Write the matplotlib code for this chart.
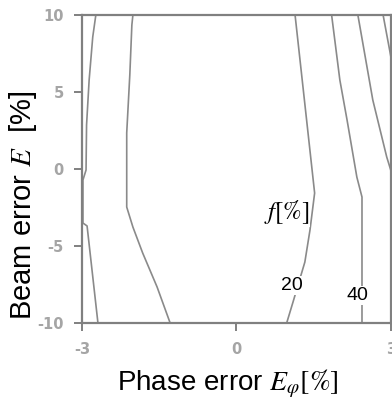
import numpy as np
import matplotlib
matplotlib.use("Agg")
import matplotlib.pyplot as plt

plt.rcParams["font.family"] = ["Liberation Sans", "DejaVu Sans"]
plt.rcParams["mathtext.fontset"] = "stix"
plt.rcParams["axes.unicode_minus"] = False

# contour lines (phase error, beam error)
line_a_x = [-2.73, -2.79, -2.86, -2.91, -2.92, -2.98, -2.98, -2.90, -2.69]
line_a_y = [10, 8.57, 5.77, 2.85, -0.08, -0.73, -3.53, -3.72, -10]

line_b_x = [-2.01, -2.03, -2.07, -2.13, -2.13, -2.01, -1.82, -1.54, -1.29]
line_b_y = [10, 9.35, 6.10, 2.33, -2.49, -3.79, -5.48, -7.69, -10]

line_20_x = [1.14, 1.52, 1.43, 1.33, 1.10, 0.98]
line_20_y = [10, -1.58, -3.98, -6.07, -8.67, -10]

line_40_x = [1.85, 2.01, 2.15, 2.34, 2.44, 2.44]
line_40_y = [10, 5.77, 3.17, -0.54, -1.84, -10]

line_e_x = [2.36, 2.65, 2.92, 3.0]
line_e_y = [10, 4.47, 0.77, -0.1]

line_f_x = [2.85, 3.0]
line_f_y = [10, 7.3]

lines = [
    (line_a_x, line_a_y),
    (line_b_x, line_b_y),
    (line_20_x, line_20_y),
    (line_40_x, line_40_y),
    (line_e_x, line_e_y),
    (line_f_x, line_f_y),
]

# labels: text, x, y
labels = [("$f[\\%]$", 0.98, -2.81), ("20", 1.08, -7.6), ("40", 2.36, -8.25)]

x_ticks = [-3, 0, 3]
y_ticks = [-10, -5, 0, 5, 10]

fig = plt.figure(figsize=(3.92, 3.99), dpi=100)
ax = fig.add_axes([0.209, 0.1917, 0.788, 0.7707])

line_col = "#8a8a8a"
for xs, ys in lines:
    ax.plot(xs, ys, color=line_col, lw=1.2, zorder=2, clip_on=True)

for txt, lx, ly in labels:
    fs = 18 if txt.startswith("$") else 14
    ax.text(lx, ly, txt, fontsize=fs, ha="center", va="center", zorder=4,
            bbox=dict(facecolor="white", edgecolor="none", pad=0.5))

ax.set_xlim(-3, 3)
ax.set_ylim(-10, 10)
ax.set_xticks(x_ticks)
ax.set_yticks(y_ticks)

for sp in ax.spines.values():
    sp.set_color("#808080")
    sp.set_linewidth(1.6)

ax.tick_params(axis="both", direction="out", length=6, width=1.4,
               color="#808080", labelcolor="#a5a5a5", labelsize=10.5)
ax.tick_params(axis="y", pad=7)
ax.tick_params(axis="x", pad=8)
for lab in ax.get_xticklabels() + ax.get_yticklabels():
    lab.set_fontweight("bold")
    lab.set_fontfamily("DejaVu Sans")

fig.text(228 / 392, 1 - 390 / 399, r"Phase error $E_{\varphi}[\%]$",
         fontsize=20, ha="center", va="baseline")
fig.text(23 / 392, 1 - 205 / 399, r"Beam error $E$  [%]",
         fontsize=21, ha="center", va="center", rotation=90)

fig.savefig("out.png", dpi=100)
